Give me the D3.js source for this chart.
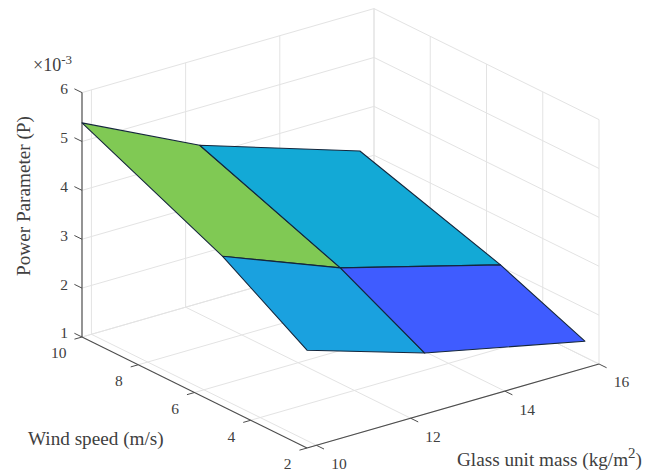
<!DOCTYPE html>
<html>
<head>
<meta charset="utf-8">
<script src="https://cdn.jsdelivr.net/npm/d3@7"></script>
<style>
  html, body { margin: 0; padding: 0; background: #fff; }
  svg { display: block; }
  text { font-family: "Liberation Serif", serif; fill: #404040; }
</style>
</head>
<body>
<svg id="chart"></svg>
<script>
// tick values for the three axes
const massTicks = [10, 12, 14, 16];
const windTicks = [10, 8, 6, 4, 2];
const powerTicks = [1, 2, 3, 4, 5, 6];

// surface grid, power is in units of 1e-3
const massValues = [9.8, 12.3, 15.7];
const windValues = [10, 5, 2];
const powerRow10 = [5.38, 4.23, 3.17];
const powerRow5 = [4.07, 3.14, 2.26];
const powerRow2 = [3.0, 2.25, 1.55];

const width = 664;
const height = 476;
const svg = d3.select("#chart").attr("width", width).attr("height", height);

// axes limits
const massLim = [9.8, 16];
const windLim = [10, 2];
const powerLim = [1, 6];

// orthographic view, every data axis gets a screen x and y scale
const origin = { x: 82, y: 337 };
const massX = d3.scaleLinear().domain(massLim).range([0, 292]);
const massY = d3.scaleLinear().domain(massLim).range([0, -84]);
const windX = d3.scaleLinear().domain(windLim).range([0, 225]);
const windY = d3.scaleLinear().domain(windLim).range([0, 111]);
const powerY = d3.scaleLinear().domain(powerLim).range([0, -244.4]);

function project(mass, wind, power) {
  return [
    origin.x + massX(mass) + windX(wind),
    origin.y + massY(mass) + windY(wind) + powerY(power),
  ];
}

const line3d = d3.line();

function drawLine(parent, a, b, stroke, strokeWidth) {
  parent.append("path")
    .attr("d", line3d([project(...a), project(...b)]))
    .attr("fill", "none")
    .attr("stroke", stroke)
    .attr("stroke-width", strokeWidth);
}

// grid lines on the floor and the two back walls
const grid = svg.append("g");
const gridColor = "#e3e3e3";
massTicks.forEach((m) => {
  drawLine(grid, [m, windLim[0], powerLim[0]], [m, windLim[1], powerLim[0]], gridColor, 1);
  drawLine(grid, [m, windLim[0], powerLim[0]], [m, windLim[0], powerLim[1]], gridColor, 1);
});
windTicks.forEach((w) => {
  drawLine(grid, [massLim[0], w, powerLim[0]], [massLim[1], w, powerLim[0]], gridColor, 1);
  drawLine(grid, [massLim[1], w, powerLim[0]], [massLim[1], w, powerLim[1]], gridColor, 1);
});
powerTicks.forEach((p) => {
  drawLine(grid, [massLim[0], windLim[0], p], [massLim[1], windLim[0], p], gridColor, 1);
  drawLine(grid, [massLim[1], windLim[0], p], [massLim[1], windLim[1], p], gridColor, 1);
});

// the axis lines
const axes = svg.append("g");
const axisColor = "#4d4d4d";
drawLine(axes, [massLim[0], windLim[0], powerLim[0]], [massLim[0], windLim[0], powerLim[1]], "#666", 1.4);
drawLine(axes, [massLim[0], windLim[0], powerLim[0]], [massLim[0], windLim[1], powerLim[0]], axisColor, 1.1);
drawLine(axes, [massLim[0], windLim[1], powerLim[0]], [massLim[1], windLim[1], powerLim[0]], axisColor, 1.1);

// ticks stick out along the other floor direction
const tickMass = 0.16;
const tickWind = 0.27;
powerTicks.forEach((p) => {
  drawLine(axes, [massLim[0], windLim[0], p], [massLim[0], windLim[0] + tickWind, p], axisColor, 1);
});
windTicks.forEach((w) => {
  drawLine(axes, [massLim[0], w, powerLim[0]], [massLim[0] - tickMass, w, powerLim[0]], axisColor, 1);
});
massTicks.forEach((m) => {
  drawLine(axes, [m, windLim[1], powerLim[0]], [m, windLim[1] - tickWind, powerLim[0]], axisColor, 1);
});

// surface, colour by mean height of the cell
const powerRows = [powerRow10, powerRow5, powerRow2];
const color = d3.scaleLinear()
  .domain([2.3, 3.1, 3.2, 4.2])
  .range(["#3f5cff", "#1ba0e0", "#13a9d6", "#7fc955"]);

const cells = [];
for (let r = 0; r < windValues.length - 1; r++) {
  for (let c = 0; c < massValues.length - 1; c++) {
    const corners = [[r, c], [r, c + 1], [r + 1, c + 1], [r + 1, c]];
    cells.push({
      points: corners.map(([i, j]) => project(massValues[j], windValues[i], powerRows[i][j])),
      mean: d3.mean(corners, ([i, j]) => powerRows[i][j]),
    });
  }
}

svg.append("g")
  .selectAll("path")
  .data(cells)
  .join("path")
  .attr("d", (d) => line3d(d.points) + "Z")
  .attr("fill", (d) => color(d.mean))
  .attr("stroke", "#14263c")
  .attr("stroke-width", 1.1)
  .attr("stroke-linejoin", "round");

// tick labels
const labels = svg.append("g").style("font-size", "15.5px");

labels.selectAll(".ptick")
  .data(powerTicks)
  .join("text")
  .attr("x", (d) => project(massLim[0], windLim[0], d)[0] - 14)
  .attr("y", (d) => project(massLim[0], windLim[0], d)[1] - 4)
  .attr("dy", "0.35em")
  .attr("text-anchor", "end")
  .text((d) => d);

labels.selectAll(".wtick")
  .data(windTicks)
  .join("text")
  .attr("x", (d) => project(massLim[0], d, powerLim[0])[0] - 15.5)
  .attr("y", (d) => project(massLim[0], d, powerLim[0])[1] + 16)
  .attr("dy", "0.35em")
  .attr("text-anchor", "end")
  .text((d) => d);

labels.selectAll(".mtick")
  .data(massTicks)
  .join("text")
  .attr("x", (d) => project(d, windLim[1], powerLim[0])[0] + 22.5)
  .attr("y", (d) => project(d, windLim[1], powerLim[0])[1] + 18)
  .attr("dy", "0.35em")
  .attr("text-anchor", "middle")
  .text((d) => d);

// multiplier above the z axis
const mult = svg.append("text").attr("x", 33).attr("y", 71).style("font-size", "18px");
mult.append("tspan").text("\u00d710");
mult.append("tspan").attr("dy", -7).style("font-size", "13px").text("-3");

// axis titles
svg.append("text")
  .attr("transform", "translate(30,196) rotate(-90)")
  .attr("text-anchor", "middle")
  .style("font-size", "19.2px")
  .text("Power Parameter (P)");

svg.append("text")
  .attr("x", 28)
  .attr("y", 445)
  .style("font-size", "19.2px")
  .text("Wind speed (m/s)");

const massTitle = svg.append("text")
  .attr("x", 457)
  .attr("y", 466)
  .style("font-size", "19.2px");
massTitle.append("tspan").text("Glass unit mass (kg/m");
massTitle.append("tspan").attr("dy", -8).style("font-size", "15px").text("2");
massTitle.append("tspan").attr("dy", 8).text(")");
</script>
</body>
</html>
